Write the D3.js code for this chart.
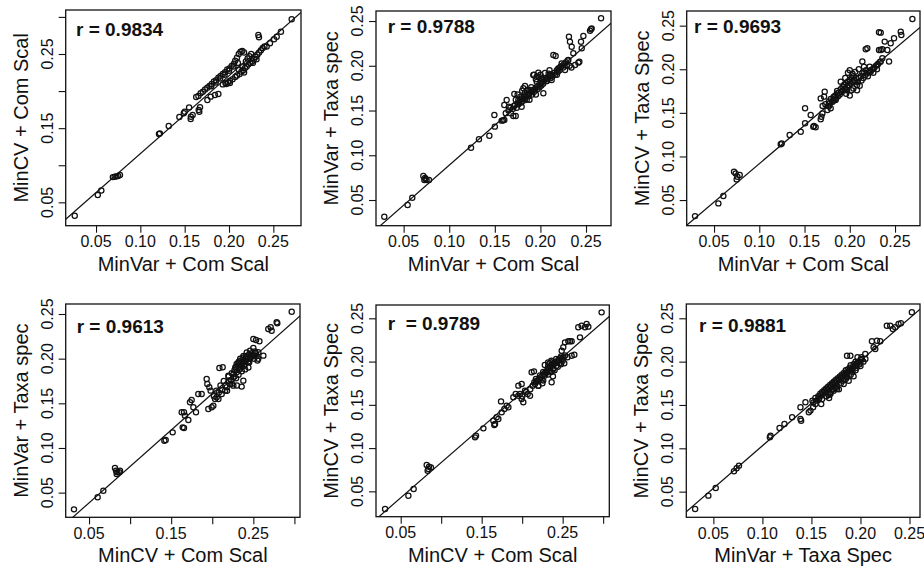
<!DOCTYPE html>
<html><head><meta charset="utf-8">
<script src="https://cdn.jsdelivr.net/npm/d3@7"></script>
<style>
html,body{margin:0;padding:0;background:#fff;}
svg{display:block;font-family:"Liberation Sans",Arial,Helvetica,sans-serif;}
</style></head><body>
<svg id="chart" width="924" height="569"></svg>
<script>
// ---------- data ----------
const xTitles = ["MinVar + Com Scal","MinVar + Com Scal","MinVar + Com Scal","MinCV + Com Scal","MinCV + Com Scal","MinVar + Taxa Spec"];
const yTitles = ["MinCV + Com Scal","MinVar + Taxa spec","MinCV + Taxa Spec","MinVar + Taxa spec","MinCV + Taxa Spec","MinCV + Taxa Spec"];
const rLabels = ["r = 0.9834","r = 0.9788","r = 0.9693","r = 0.9613","r  = 0.9789","r = 0.9881"];
const intercepts = [0.0107,-0.0005,0.0038,-0.0022,0.0019,0.0048];
const slopes = [1.05,0.894,0.879,0.815,0.8135,0.981];
const ticks5 = [0.05,0.10,0.15,0.20,0.25];
const ticks6 = [0.05,0.10,0.15,0.20,0.25,0.30];
const labelsAll = [0.05,0.10,0.15,0.20,0.25];
const labelsOdd = [0.05,0.15,0.25];

const p1 = [[0.026,0.032],[0.052,0.060],[0.056,0.066],
[0.069,0.084],[0.071,0.0845],[0.073,0.085],[0.075,0.0855],[0.077,0.087],
[0.121,0.142],[0.122,0.143],[0.132,0.153],[0.144,0.165],[0.149,0.170],[0.150,0.172],[0.155,0.178],
[0.157,0.1655],[0.1568,0.1624],[0.159,0.1678],[0.1665,0.1722],[0.1673,0.1781],[0.1658,0.1745],
[0.1756,0.188],[0.1793,0.1925],[0.1842,0.1947],[0.188,0.196],
[0.163,0.192],[0.1655,0.1935],[0.168,0.197],[0.1705,0.199],[0.173,0.202],[0.1755,0.2045],[0.178,0.207],[0.1805,0.2095],[0.183,0.213],[0.1855,0.2145],[0.188,0.218],[0.1905,0.2205],[0.193,0.223],[0.1955,0.2255],[0.198,0.229],[0.2005,0.2305],[0.203,0.234],[0.2055,0.237],[0.207,0.241],[0.209,0.245],[0.211,0.25],[0.213,0.253],[0.215,0.254],[0.217,0.252],[0.2,0.2275],[0.19,0.217],[0.18,0.2065],[0.185,0.2115],[0.195,0.222],[0.205,0.233],[0.21,0.238],
[0.193,0.209],[0.197,0.2096],[0.201,0.211],[0.196,0.211],[0.199,0.212],[0.201,0.214],[0.204,0.216],[0.207,0.219],[0.209,0.221],[0.212,0.223],[0.214,0.226],[0.216,0.228],[0.218,0.231],[0.220,0.233],[0.222,0.236],[0.224,0.238],[0.226,0.240],[0.228,0.243],[0.230,0.246],[0.232,0.249],[0.234,0.252],[0.236,0.255],[0.238,0.258],[0.240,0.260],[0.219,0.240],[0.221,0.244],[0.223,0.247],[0.225,0.250],[0.215,0.233],[0.211,0.229],[0.227,0.238],[0.231,0.243],[0.217,0.225],
[0.2331,0.2756],[0.2338,0.2725],[0.2425,0.26],[0.2462,0.2644],[0.2508,0.2698],[0.2538,0.2733],[0.2586,0.280],[0.2707,0.2967]];

const p2 = [[0.0288,0.0314],[0.0544,0.0444],[0.0595,0.0526],
[0.0716,0.0768],[0.0727,0.0723],[0.0741,0.0735],[0.0752,0.0723],[0.0778,0.0723],[0.0735,0.0745],
[0.1239,0.1085],[0.1326,0.1178],[0.144,0.1219],[0.1495,0.145],[0.150,0.132],
[0.1575,0.1387],[0.159,0.139],[0.1604,0.1394],
[0.1604,0.1562],[0.163,0.1617],[0.1655,0.1543],[0.1677,0.1468],[0.1703,0.1439],[0.1729,0.1439],[0.1714,0.1685],[0.1758,0.1617],[0.1794,0.1543],[0.1831,0.1774],[0.1813,0.1748],[0.1867,0.1729],[0.1922,0.1897],[0.1959,0.1878],[0.1977,0.1923],[0.2014,0.1859],[0.2032,0.1692],[0.2068,0.1830],[0.2105,0.1885],[0.2123,0.1841],[0.2142,0.212],[0.2167,0.2109],[0.2197,0.1971],[0.2233,0.2027],[0.227,0.1953],[0.2306,0.2064],[0.2313,0.2325],[0.2324,0.2269],[0.2343,0.2213],[0.2361,0.2139],[0.238,0.2008],[0.2416,0.2035],[0.2427,0.2046],[0.2445,0.2269],[0.2471,0.2333],[0.2453,0.2195],[0.2544,0.2392],[0.2555,0.2407],[0.2562,0.2418],[0.2665,0.253],
[0.17,0.152],[0.172,0.156],[0.175,0.158],[0.177,0.16],[0.18,0.163],[0.182,0.165],[0.184,0.166],[0.186,0.168],[0.188,0.169],[0.19,0.171],[0.192,0.173],[0.194,0.174],[0.196,0.176],[0.198,0.178],[0.200,0.180],[0.202,0.182],[0.204,0.184],[0.206,0.185],[0.208,0.186],[0.210,0.188],[0.212,0.19],[0.215,0.192],[0.218,0.195],[0.220,0.197],[0.222,0.199],[0.224,0.2],[0.226,0.202],[0.228,0.204],[0.230,0.206],[0.232,0.2],[0.234,0.198],[0.218,0.19],[0.195,0.168],[0.188,0.162],[0.185,0.162],[0.178,0.165],[0.173,0.162],[0.2,0.19],[0.205,0.192],[0.21,0.195],[0.19,0.176],[0.196,0.182],[0.175,0.168],[0.18,0.172],[0.193,0.19],
[0.162,0.147],[0.165,0.15],[0.167,0.153],[0.171,0.155],[0.174,0.153],[0.176,0.157],[0.179,0.159],[0.181,0.161],[0.183,0.163],[0.187,0.166],[0.189,0.173],[0.191,0.168],[0.193,0.171],[0.197,0.174],[0.199,0.176],[0.201,0.178],[0.203,0.18],[0.207,0.183],[0.209,0.191],[0.211,0.186],[0.213,0.188],[0.216,0.19],[0.219,0.193],[0.221,0.195],[0.225,0.198],[0.229,0.2],[0.183,0.17],[0.185,0.172],[0.195,0.185],[0.198,0.188]];

const p3 = [[0.029,0.0316],[0.0548,0.0462],[0.0603,0.0546],
[0.0721,0.0825],[0.0739,0.0806],[0.0758,0.0768],[0.0784,0.0787],[0.075,0.0737],
[0.1237,0.1139],[0.1248,0.1150],[0.1336,0.1246],[0.1458,0.1284],[0.1506,0.138],[0.1506,0.1552],[0.1568,0.1475],
[0.1605,0.1349],[0.1623,0.1334],[0.1597,0.1341],[0.1679,0.1426],[0.1686,0.1456],[0.1697,0.1494],
[0.1679,0.1666],[0.1716,0.1686],[0.1723,0.1743],[0.1753,0.1533],[0.1771,0.1578],[0.1789,0.1552],[0.1808,0.1628],
[0.1826,0.1686],[0.1844,0.1647],[0.1863,0.1724],[0.19,0.1858],[0.1937,0.1820],[0.1955,0.1762],
[0.2139,0.2089],[0.2157,0.203],[0.2176,0.2229],[0.2194,0.224],
[0.2231,0.1972],[0.2268,0.2011],[0.2305,0.2049],[0.2342,0.2088],[0.236,0.2126],
[0.2323,0.2221],[0.2342,0.2221],[0.236,0.2229],[0.2323,0.2424],[0.2342,0.242],
[0.2386,0.2317],[0.2415,0.2221],[0.2434,0.2088],[0.2452,0.2298],[0.2489,0.2355],[0.2563,0.2431],[0.257,0.2393],[0.2692,0.2577],
[0.176,0.158],[0.178,0.161],[0.181,0.163],[0.183,0.165],[0.185,0.167],[0.187,0.169],[0.189,0.171],[0.191,0.174],[0.193,0.176],[0.195,0.178],[0.197,0.18],[0.199,0.182],[0.201,0.184],[0.203,0.186],[0.205,0.188],[0.207,0.19],[0.209,0.185],[0.211,0.181],[0.213,0.187],[0.215,0.19],[0.217,0.193],[0.219,0.195],[0.221,0.197],[0.223,0.199],[0.225,0.2],[0.227,0.202],[0.229,0.204],[0.231,0.206],[0.233,0.208],[0.198,0.196],[0.2,0.199],[0.203,0.195],[0.206,0.197],[0.21,0.2],[0.195,0.19],[0.2,0.186],[0.204,0.178],[0.208,0.176],[0.196,0.172],[0.2,0.17],
[0.17,0.158],[0.173,0.16],[0.177,0.163],[0.179,0.166],[0.182,0.168],[0.184,0.17],[0.186,0.175],[0.188,0.173],[0.19,0.177],[0.192,0.18],[0.194,0.182],[0.196,0.184],[0.198,0.186],[0.2,0.188],[0.202,0.19],[0.204,0.192],[0.206,0.186],[0.208,0.182],[0.21,0.19],[0.212,0.192],[0.214,0.196],[0.216,0.196],[0.218,0.199],[0.22,0.192],[0.222,0.203],[0.226,0.196],[0.23,0.2],[0.202,0.176],[0.197,0.176]];

const p4 = [[0.0317,0.0313],[0.0605,0.0448],[0.0674,0.0522],
[0.0816,0.0776],[0.0829,0.0746],[0.0845,0.0728],[0.0869,0.0728],[0.0877,0.0746],[0.0837,0.0709],
[0.1417,0.1082],[0.1433,0.109],[0.1518,0.1175],[0.164,0.1231],[0.1656,0.1224],
[0.1628,0.1399],[0.1656,0.1399],[0.1668,0.1362],[0.1709,0.1313],
[0.1729,0.1511],[0.1749,0.1537],[0.177,0.1455],[0.1802,0.1399],[0.183,0.1604],[0.1871,0.1604],
[0.1932,0.1772],[0.194,0.1716],[0.1964,0.1679],[0.198,0.1642],[0.1952,0.1437],[0.1993,0.1455],[0.2013,0.1474],
[0.2034,0.1549],[0.2054,0.1567],[0.2075,0.1549],[0.2087,0.1896],[0.2127,0.1903],
[0.2115,0.1604],[0.2156,0.1642],[0.2176,0.1679],[0.2217,0.1716],[0.2196,0.181],[0.2237,0.1836],[0.2257,0.1791],
[0.2257,0.1698],[0.2297,0.194],[0.2318,0.1959],[0.2358,0.1687],[0.2378,0.1754],
[0.25,0.222],[0.2533,0.2209],[0.2574,0.2194],[0.2622,0.2034],[0.2561,0.2071],
[0.2682,0.2332],[0.2711,0.2351],[0.2723,0.2313],[0.2784,0.2407],[0.2792,0.2396],[0.2967,0.2526],
[0.228,0.19],[0.231,0.192],[0.233,0.188],[0.235,0.194],[0.237,0.196],[0.239,0.192],[0.241,0.198],[0.243,0.2],[0.245,0.196],[0.247,0.202],[0.249,0.204],[0.251,0.2],[0.253,0.206],[0.255,0.198],[0.236,0.186],[0.24,0.188],[0.244,0.19],[0.232,0.182],[0.226,0.183],[0.229,0.178],[0.234,0.2],[0.238,0.203],[0.242,0.207],[0.246,0.209],[0.25,0.212],[0.22,0.175],[0.224,0.172],[0.216,0.17],[0.212,0.165],[0.208,0.162],
[0.227,0.187],[0.229,0.191],[0.23,0.185],[0.232,0.195],[0.234,0.19],[0.236,0.192],[0.238,0.197],[0.24,0.194],[0.242,0.2],[0.244,0.197],[0.246,0.2],[0.248,0.206],[0.25,0.203],[0.252,0.208],[0.254,0.203],[0.256,0.2],[0.233,0.197],[0.237,0.201],[0.241,0.203],[0.245,0.205],[0.223,0.176],[0.227,0.18],[0.22,0.18],[0.214,0.175],[0.21,0.17],[0.205,0.164],[0.202,0.158],[0.218,0.164],[0.23,0.17]];

const p5 = [[0.0307,0.0296],[0.0595,0.045],[0.066,0.0527],
[0.0821,0.0804],[0.0842,0.0758],[0.085,0.0785],[0.0874,0.0777],[0.0833,0.0739],
[0.1418,0.1124],[0.143,0.1144],[0.1521,0.1228],[0.1644,0.1317],[0.1665,0.1278],[0.1656,0.1267],
[0.1685,0.1356],[0.1706,0.1336],[0.1747,0.1413],[0.178,0.1452],[0.1809,0.149],[0.1739,0.154],[0.183,0.1471],
[0.1891,0.1587],[0.192,0.1625],[0.1953,0.1606],[0.1973,0.1625],[0.1994,0.1567],[0.2014,0.1529],
[0.1953,0.1722],[0.1994,0.1741],[0.2035,0.1664],[0.2068,0.1625],[0.2097,0.1606],[0.2117,0.1876],[0.2146,0.1887],
[0.2158,0.1741],[0.2199,0.1722],[0.2364,0.176],[0.2385,0.1914],[0.2488,0.2126],[0.2508,0.2165],
[0.2529,0.2222],[0.2570,0.2234],[0.2591,0.2234],[0.2611,0.2234],[0.2611,0.2068],[0.2644,0.208],
[0.2693,0.2396],[0.2734,0.2415],[0.2776,0.2396],[0.2796,0.2434],[0.2817,0.2404],[0.2714,0.228],[0.2981,0.2569],
[0.218,0.178],[0.221,0.18],[0.223,0.182],[0.225,0.184],[0.227,0.186],[0.229,0.188],[0.231,0.19],[0.233,0.192],[0.235,0.194],[0.237,0.196],[0.239,0.197],[0.241,0.198],[0.243,0.2],[0.245,0.202],[0.247,0.204],[0.249,0.203],[0.251,0.205],[0.232,0.185],[0.236,0.188],[0.24,0.19],[0.244,0.194],[0.248,0.197],[0.252,0.198],[0.228,0.196],[0.232,0.199],[0.236,0.201],[0.226,0.178],[0.22,0.172],[0.238,0.183],
[0.215,0.176],[0.217,0.18],[0.219,0.177],[0.222,0.184],[0.224,0.179],[0.226,0.188],[0.228,0.184],[0.23,0.187],[0.232,0.194],[0.234,0.189],[0.236,0.196],[0.238,0.192],[0.24,0.199],[0.242,0.195],[0.244,0.2],[0.246,0.198],[0.248,0.206],[0.25,0.201],[0.253,0.207],[0.256,0.205],[0.234,0.198],[0.238,0.2],[0.242,0.203],[0.21,0.168],[0.205,0.165],[0.213,0.172],[0.225,0.175],[0.2,0.16]];

const p6 = [[0.0314,0.03],[0.0449,0.0454],[0.0524,0.0542],
[0.071,0.0735],[0.0737,0.0769],[0.0761,0.08],
[0.1076,0.1127],[0.1083,0.1146],[0.1175,0.1235],[0.1225,0.1281],[0.1303,0.1358],
[0.1388,0.1338],[0.1395,0.1319],[0.1388,0.1473],[0.1439,0.1531],
[0.1473,0.1415],[0.149,0.1435],[0.1517,0.1473],[0.1541,0.1512],[0.1575,0.1569],[0.1609,0.1569],
[0.1676,0.1615],[0.1693,0.1627],[0.1727,0.1665],[0.1761,0.1685],[0.1829,0.1742],[0.1863,0.1819],
[0.1863,0.2069],[0.1897,0.2069],[0.2015,0.2031],[0.2049,0.2088],
[0.2117,0.2235],[0.2168,0.2242],[0.2202,0.2235],[0.2134,0.2165],[0.2151,0.2146],
[0.2269,0.2415],[0.2303,0.2415],[0.233,0.2377],[0.2354,0.2396],[0.2388,0.2435],[0.2412,0.2442],[0.2524,0.2569],
[0.152,0.153],[0.155,0.155],[0.158,0.158],[0.16,0.161],[0.162,0.163],[0.164,0.165],[0.166,0.167],[0.168,0.169],[0.17,0.171],[0.172,0.173],[0.174,0.175],[0.176,0.177],[0.178,0.179],[0.18,0.181],[0.182,0.183],[0.184,0.185],[0.186,0.187],[0.188,0.189],[0.19,0.191],[0.192,0.193],[0.194,0.195],[0.196,0.197],[0.198,0.2],[0.2,0.202],[0.165,0.16],[0.17,0.165],[0.175,0.17],[0.18,0.175],[0.185,0.18],[0.19,0.185],[0.195,0.19],[0.2,0.195],[0.185,0.19],[0.19,0.196],[0.195,0.2],[0.197,0.205],[0.188,0.178],[0.193,0.183],[0.178,0.168],[0.16,0.151],[0.168,0.158],
[0.151,0.155],[0.154,0.158],[0.157,0.16],[0.159,0.163],[0.161,0.165],[0.163,0.167],[0.165,0.169],[0.167,0.171],[0.169,0.173],[0.171,0.175],[0.173,0.177],[0.175,0.179],[0.177,0.181],[0.179,0.183],[0.181,0.185],[0.183,0.187],[0.185,0.185],[0.187,0.191],[0.189,0.193],[0.191,0.19],[0.193,0.197],[0.195,0.195],[0.197,0.199],[0.199,0.197],[0.201,0.205],[0.172,0.168],[0.176,0.172],[0.182,0.178],[0.186,0.183],[0.192,0.188],[0.196,0.193],[0.2,0.199],[0.203,0.2],[0.205,0.203]];

const pointSets = [p1,p2,p3,p4,p5,p6];

// ---------- layout (positions, not data) ----------
const boxes = [[65.7,10,235.3,215.7],[376,11,235,214.7],[686.7,11,233.3,214.7],
               [65.7,304,234.3,213.3],[376,305,233.3,211.7],[686.3,304,233.7,213.3]];
const xDomains = [[0.0158,0.2812],[0.0197,0.2774],[0.0198,0.2776],[0.0216,0.3068],[0.0195,0.3076],[0.0224,0.2607]];
const yDomains = [[0.0185,0.3093],[0.0213,0.2612],[0.0206,0.2668],[0.0224,0.2612],[0.0207,0.2654],[0.0204,0.2665]];
const xTickSets = [ticks5,ticks5,ticks5,ticks6,ticks6,ticks5];
const xLabelSets = [labelsAll,labelsAll,labelsAll,labelsOdd,labelsOdd,labelsAll];
const yTickSets = [ticks6,ticks5,ticks5,ticks5,ticks5,ticks5];
const yLabelSets = [labelsOdd,labelsAll,labelsAll,labelsAll,labelsAll,labelsAll];
const rPos = [[10.3,26],[11.7,22.3],[7.3,22.3],[11,29.3],[11.7,24.7],[12.7,27.7]];

const ink = "#111";
const svg = d3.select("#chart");
const fmt = d3.format(".2f");

boxes.forEach((b,i)=>{
  const [left,top,w,h] = b;
  const g = svg.append("g").attr("transform",`translate(${left},${top})`);
  const x = d3.scaleLinear().domain(xDomains[i]).range([0,w]);
  const y = d3.scaleLinear().domain(yDomains[i]).range([h,0]);

  g.append("clipPath").attr("id","clip"+i).append("rect").attr("width",w).attr("height",h);

  const xa = g.append("g").attr("transform",`translate(0,${h})`)
    .call(d3.axisBottom(x).tickValues(xTickSets[i]).tickSize(7).tickFormat(""));
  const ya = g.append("g")
    .call(d3.axisLeft(y).tickValues(yTickSets[i]).tickSize(7).tickFormat(""));
  [xa,ya].forEach(a=>{a.select(".domain").remove(); a.selectAll("line").attr("stroke",ink).attr("stroke-width",1.1);});

  g.selectAll(".xl").data(xLabelSets[i]).join("text")
    .attr("x",d=>x(d)).attr("y",h+21.6).attr("text-anchor","middle")
    .attr("font-size",16).attr("fill",ink).text(d=>fmt(d));
  g.selectAll(".yl").data(yLabelSets[i]).join("text")
    .attr("transform",d=>`translate(-13,${y(d)}) rotate(-90)`).attr("text-anchor","middle")
    .attr("font-size",16).attr("fill",ink).text(d=>fmt(d));

  g.append("text").attr("x",w/2).attr("y",h+45).attr("text-anchor","middle")
    .attr("font-size",20).attr("fill",ink).text(xTitles[i]);
  g.append("text").attr("transform",`translate(-38,${h/2}) rotate(-90)`).attr("text-anchor","middle")
    .attr("font-size",20).attr("fill",ink).text(yTitles[i]);

  const xd = xDomains[i];
  g.append("line").attr("clip-path",`url(#clip${i})`)
    .attr("x1",x(xd[0])).attr("y1",y(intercepts[i]+slopes[i]*xd[0]))
    .attr("x2",x(xd[1])).attr("y2",y(intercepts[i]+slopes[i]*xd[1]))
    .attr("stroke",ink).attr("stroke-width",1.2);

  g.append("g").attr("clip-path",`url(#clip${i})`).selectAll("circle").data(pointSets[i]).join("circle")
    .attr("cx",d=>x(d[0])).attr("cy",d=>y(d[1])).attr("r",2.6)
    .attr("fill","none").attr("stroke",ink).attr("stroke-width",1.25);

  g.append("rect").attr("width",w).attr("height",h).attr("fill","none").attr("stroke",ink).attr("stroke-width",1.3);

  g.append("text").attr("x",rPos[i][0]).attr("y",rPos[i][1]).attr("font-size",19).attr("font-weight","bold")
    .attr("fill",ink).style("white-space","pre").text(rLabels[i]);
});
</script>
</body></html>
